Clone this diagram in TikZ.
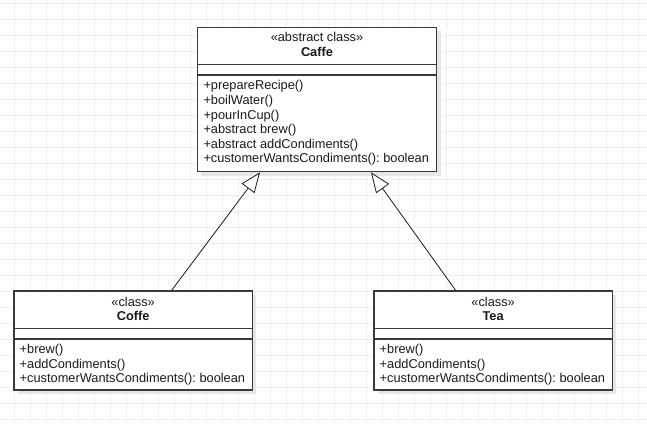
\documentclass[tikz,border=0pt]{standalone}
\usepackage{fontspec}
\setmainfont{Liberation Sans}
\usetikzlibrary{arrows.meta,calc}
\frenchspacing

\definecolor{gridline}{HTML}{EFEFEF}
\definecolor{shadowgray}{HTML}{E6E6E6}
\definecolor{boxline}{HTML}{3A3A3A}
\definecolor{ink}{HTML}{1A1A1A}

\tikzset{
  classbox/.style={draw=boxline, line width=1.3pt, fill=white, inner sep=0pt,
    minimum width=#1},
  divider/.style={draw=boxline, line width=1.3pt},
  stereo/.style={font=\fontsize{12.8}{14.5}\selectfont, text=ink, inner sep=0pt, anchor=base},
  cname/.style={font=\fontsize{12.8}{14.5}\selectfont\bfseries, text=ink, inner sep=0pt, anchor=base},
  member/.style={font=\fontsize{12.8}{14.5}\selectfont, text=ink, inner sep=0pt, anchor=base west},
  inherit/.style={draw=ink, line width=0.8pt,
    -{Triangle[open, length=20pt, width=16pt, line width=0.8pt, fill=white]}},
}

\begin{document}
\begin{tikzpicture}[x=1pt, y=-1pt]
  % canvas and grid
  \fill[white] (0,0) rectangle (647,423);
  \useasboundingbox (0,0) rectangle (647,423);
  \foreach \gx in {14.3,30.3,...,646} \draw[gridline, line width=0.9pt] (\gx,0) -- (\gx,423);
  \foreach \gy in {3.3,19.3,...,422} \draw[gridline, line width=0.9pt] (0,\gy) -- (647,\gy);

  % soft drop shadows
  \foreach \x/\y/\w/\h in {197.3/27.3/239.4/144.4, 14/291/238.3/99, 374/291/238.3/99}
    \fill[shadowgray] (\x+4,\y+4) rectangle (\x+\w+4,\y+\h+4);

  % abstract base class
  \node[classbox=239.4pt, minimum height=144.4pt] (caffe) at (317,99.5) {};
  \draw[divider] (caffe.west |- 0,64.3) -- (caffe.east |- 0,64.3);
  \draw[divider] (caffe.west |- 0,75) -- (caffe.east |- 0,75);
  \node[stereo] (caffe-st) at (317,41.6) {«abstract class»};
  \node[cname] (caffe-nm) at (317,56.6) {Caffe};
  \foreach \m [count=\i from 0] in {+prepareRecipe(), +boilWater(), +pourInCup(),
      +abstract brew(), +abstract addCondiments(), +customerWantsCondiments(): boolean}
    \node[member] (caffe-op\i) at (203.3,89.8+14.6*\i) {\m};

  % concrete subclasses
  \foreach \nm/\cx/\lx/\label in {coffe/133.15/19.5/Coffe, tea/493.15/379.5/Tea} {
    \node[classbox=238.3pt, minimum height=99pt] (\nm) at (\cx,340.5) {};
    \draw[divider] (\nm.west |- 0,328.3) -- (\nm.east |- 0,328.3);
    \draw[divider] (\nm.west |- 0,339) -- (\nm.east |- 0,339);
    \node[stereo] (\nm-st) at (\cx,306.6) {«class»};
    \node[cname] (\nm-nm) at (\cx,320.5) {\label};
    \foreach \m [count=\i from 0] in {+brew(), +addCondiments(), +customerWantsCondiments(): boolean}
      \node[member] (\nm-op\i) at (\lx,353.6+14.6*\i) {\m};
  }

  % generalisation arrows
  \draw[inherit] ([xshift=38.5pt]coffe.north) -- ([xshift=-57pt]caffe.south);
  \draw[inherit] ([xshift=-37.5pt]tea.north) -- ([xshift=54pt]caffe.south);
\end{tikzpicture}
\end{document}
